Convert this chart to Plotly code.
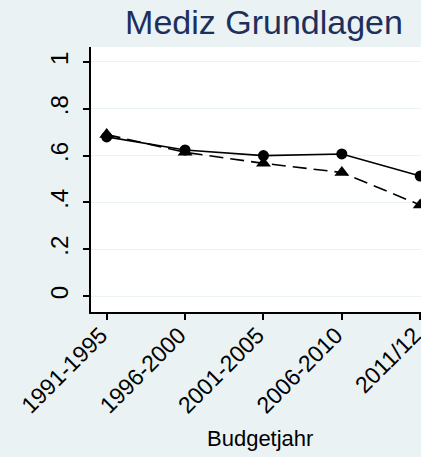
import plotly.graph_objects as go

categories = ["1991-1995", "1996-2000", "2001-2005", "2006-2010", "2011/12"]
series_circle = [0.68, 0.624, 0.60, 0.607, 0.513]
series_triangle = [0.69, 0.614, 0.567, 0.528, 0.389]
y_tickvals = [0, 0.2, 0.4, 0.6, 0.8, 1]
y_ticktext = ["0", ".2", ".4", ".6", ".8", "1"]

BG = "#eaf2f3"
FONT = "Arial, Liberation Sans, sans-serif"
xidx = list(range(len(categories)))

W, H = 421, 457
L, R, T, B = 91, 0, 47, 145
PW, PH = W - L - R, H - T - B

fig = go.Figure()
fig.add_trace(go.Scatter(
    x=xidx, y=series_circle, mode="lines+markers",
    line=dict(color="black", width=1.6),
    marker=dict(symbol="circle", size=11, color="black"),
    showlegend=False,
))
fig.add_trace(go.Scatter(
    x=xidx, y=series_triangle, mode="lines+markers",
    line=dict(color="black", width=1.6, dash="14px,7px"),
    marker=dict(symbol="triangle-up", size=13, color="black"),
    showlegend=False,
))

fig.update_layout(
    width=W, height=H,
    margin=dict(l=L, r=R, t=T, b=B, autoexpand=False),
    paper_bgcolor=BG, plot_bgcolor="white",
    font=dict(family=FONT, color="black", size=22),
    title=dict(text="Mediz Grundlagen", x=264/W, xanchor="center",
               xref="container", y=(H-22)/H, yanchor="middle", yref="container",
               font=dict(size=34, color="#1e2f5c", family=FONT)),
    xaxis=dict(
        range=[-0.2, 4.01], tickvals=xidx, ticktext=categories,
        tickangle=-45, showgrid=False, zeroline=False,
        showline=True, linecolor="black", linewidth=1.5,
        ticks="outside", ticklen=6, tickcolor="black", tickwidth=1.5,
        tickfont=dict(size=23), automargin=False,
        ticklabelstandoff=-7, ticklabelshift=-6, ticklabeloverflow="allow",
    ),
    yaxis=dict(
        range=[-0.068, 1.064], tickvals=y_tickvals, ticktext=y_ticktext,
        tickangle=-90, showgrid=True, gridcolor=BG, gridwidth=1.2, zeroline=False,
        showline=True, linecolor="black", linewidth=1.5,
        ticks="outside", ticklen=6, tickcolor="black", tickwidth=1.5,
        tickfont=dict(size=24), ticklabelstandoff=6, automargin=False,
    ),
)
fig.add_annotation(
    text="Budgetjahr", xref="paper", yref="paper",
    x=(260 - L) / PW, y=-(438 - (H - B)) / PH,
    xanchor="center", yanchor="middle", showarrow=False,
    font=dict(size=22, color="black", family=FONT),
)

fig.write_html(
    "out.html",
    config={"displayModeBar": False},
    post_script="document.documentElement.style.margin='0';document.body.style.margin='0';document.body.style.overflow='hidden';",
)
